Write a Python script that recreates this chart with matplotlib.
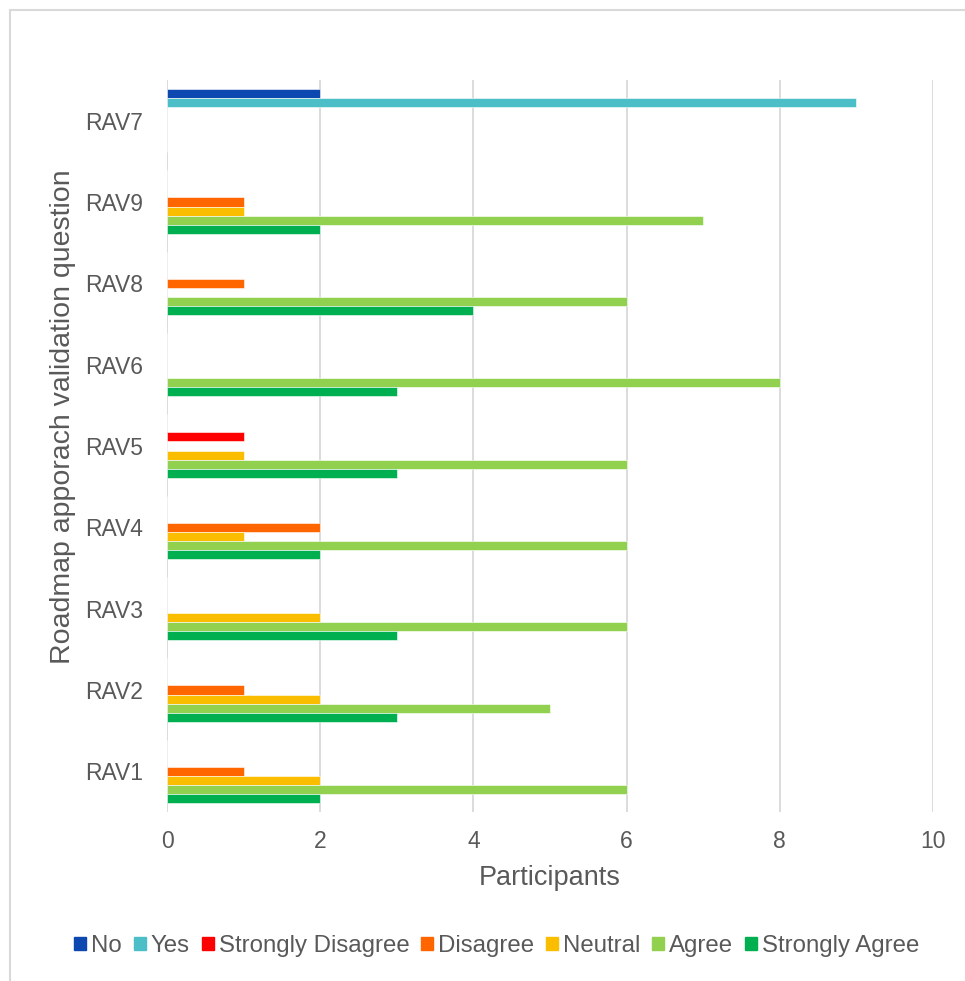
import matplotlib
matplotlib.use("Agg")
import matplotlib.pyplot as plt
from matplotlib.lines import Line2D
import numpy as np

plt.rcParams['font.family'] = ['Liberation Sans', 'DejaVu Sans']

# Questions, bottom to top
questions = ["RAV1", "RAV2", "RAV3", "RAV4", "RAV5", "RAV6", "RAV8", "RAV9", "RAV7"]

series_names = ["No", "Yes", "Strongly Disagree", "Disagree", "Neutral", "Agree", "Strongly Agree"]
series_colors = ["#0D47B0", "#4BBEC8", "#FF0000", "#FF6600", "#FBBD00", "#92D050", "#00B050"]

no_vals        = [0, 0, 0, 0, 0, 0, 0, 0, 2]
yes_vals       = [0, 0, 0, 0, 0, 0, 0, 0, 9]
str_dis_vals   = [0, 0, 0, 0, 1, 0, 0, 0, 0]
disagree_vals  = [1, 1, 0, 2, 0, 0, 1, 1, 0]
neutral_vals   = [2, 2, 2, 1, 1, 0, 0, 1, 0]
agree_vals     = [6, 5, 6, 6, 6, 8, 6, 7, 0]
str_agree_vals = [2, 3, 3, 2, 3, 3, 4, 2, 0]

all_vals = [no_vals, yes_vals, str_dis_vals, disagree_vals, neutral_vals, agree_vals, str_agree_vals]

fig = plt.figure(figsize=(9.65, 9.81), dpi=100)
ax = fig.add_axes([167 / 965, 1 - 812 / 981, (933 - 167) / 965, (812 - 80) / 981])

bar_h = 0.111
y = np.arange(len(questions))
for i, (name, vals, col) in enumerate(zip(series_names, all_vals, series_colors)):
    offset = (3 - i) * bar_h
    ax.barh(y + offset, vals, height=bar_h, color=col, edgecolor="white",
            linewidth=0.4, zorder=3, label=name)

ax.set_xlim(0, 10)
ax.set_ylim(-0.5, len(questions) - 0.5)
ax.set_xticks(np.arange(0, 11, 2))
ax.set_yticks(y)
ax.set_yticklabels(questions)
ax.grid(axis="x", color="#D9D9D9", linewidth=1.3, zorder=0)
ax.set_axisbelow(True)
for s in ax.spines.values():
    s.set_visible(False)
ax.tick_params(axis="both", length=0, labelsize=16.5, labelcolor="#595959")
ax.tick_params(axis="x", pad=13)
ax.tick_params(axis="y", pad=17)
for lbl in ax.get_yticklabels():
    lbl.set_y(lbl.get_position()[1])

ax.set_xlabel("Participants", fontsize=19.5, color="#595959")
ax.xaxis.set_label_coords(0.5, -0.0905)
ax.xaxis.label.set_va("center")
ax.set_ylabel("Roadmap apporach validation question", fontsize=20.5, color="#595959")
ax.yaxis.set_label_coords(-0.136, 0.54)
ax.yaxis.label.set_va("center")

handles = [plt.Rectangle((0, 0), 1, 1, color=c) for c in series_colors]
fig.legend(handles, series_names, loc="center", bbox_to_anchor=(0.515, 1 - 946 / 981),
           ncol=7, frameon=False, fontsize=17.3, labelcolor="#595959",
           handlelength=0.5, handleheight=0.5, handletextpad=0.2, columnspacing=0.5)

# outer chart frame (top and left edges)
fig.add_artist(Line2D([10 / 965, 10 / 965], [0, 1 - 10 / 981], transform=fig.transFigure,
                      color="#D9D9D9", linewidth=1.5))
fig.add_artist(Line2D([10 / 965, 1], [1 - 10 / 981, 1 - 10 / 981], transform=fig.transFigure,
                      color="#D9D9D9", linewidth=1.5))

fig.savefig("out.png", dpi=100)
